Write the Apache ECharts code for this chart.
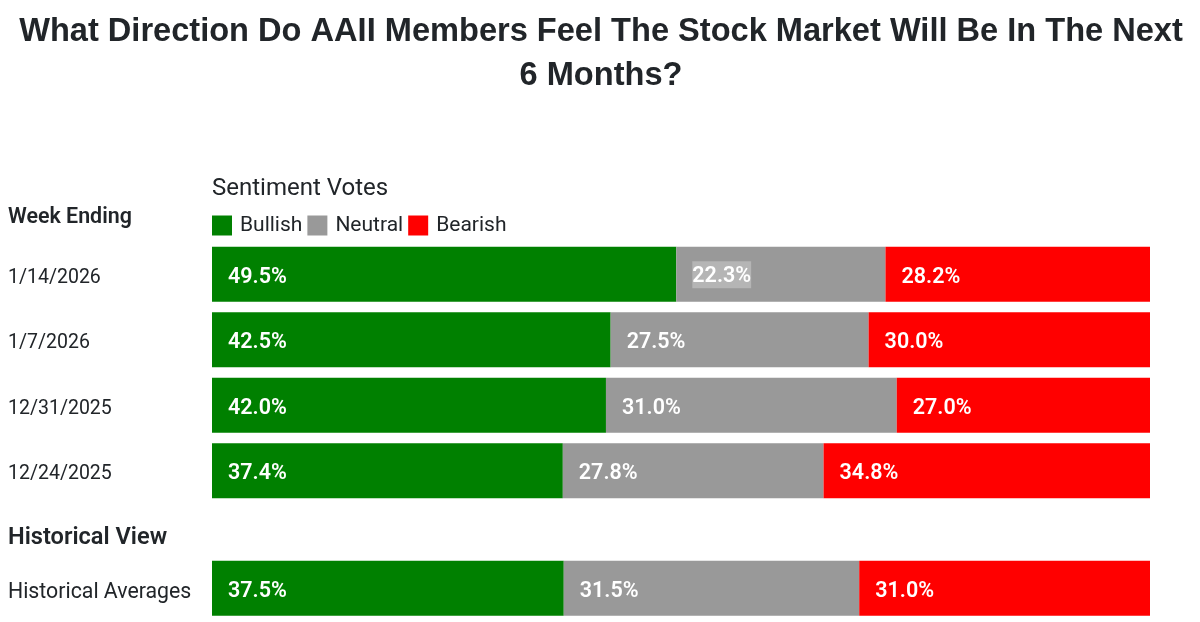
<!DOCTYPE html>
<html lang="en">
<head>
    <meta charset="UTF-8">
    <title>AAII Sentiment Votes</title>
    <script src="https://cdn.jsdelivr.net/npm/echarts@6/dist/echarts.min.js"></script>
    <style>
        html, body { margin: 0; padding: 0; background: #fff; }
        #main { width: 1200px; height: 622px; }
    </style>
</head>
<body>
    <div id="main"></div>
    <script>
        var weeks = ['1/14/2026', '1/7/2026', '12/31/2025', '12/24/2025'];
        var bullish = [49.5, 42.5, 42.0, 37.4];
        var neutral = [22.3, 27.5, 31.0, 27.8];
        var bearish = [28.2, 30.0, 27.0, 34.8];

        var historyRows = ['Historical Averages'];
        var historyBullish = [37.5];
        var historyNeutral = [31.5];
        var historyBearish = [31.0];

        var seriesNames = ['Bullish', 'Neutral', 'Bearish'];
        var seriesColors = ['#008000', '#999999', '#ff0000'];

        var bodyFont = 'Roboto';
        var textColor = '#212529';

        var chart = echarts.init(document.getElementById('main'));

        function barSeries(idx, values, axisIdx, stack) {
            return {
                name: seriesNames[idx],
                type: 'bar',
                stack: stack,
                xAxisIndex: axisIdx,
                yAxisIndex: axisIdx,
                barWidth: 55,
                itemStyle: { color: seriesColors[idx] },
                label: {
                    show: true,
                    position: 'insideLeft',
                    distance: 16,
                    offset: [0, 3],
                    color: '#fff',
                    fontFamily: bodyFont,
                    fontWeight: 600,
                    fontSize: 21.5,
                    formatter: function (p) { return p.value.toFixed(1) + '%'; }
                },
                data: values.map(function (v) { return v; })
            };
        }

        var series = [
            barSeries(0, bullish, 0, 'weeks'),
            barSeries(1, neutral, 0, 'weeks'),
            barSeries(2, bearish, 0, 'weeks'),
            barSeries(0, historyBullish, 1, 'history'),
            barSeries(1, historyNeutral, 1, 'history'),
            barSeries(2, historyBearish, 1, 'history')
        ];

        // first neutral label looks selected in the original
        series[1].data[0] = {
            value: neutral[0],
            label: {
                backgroundColor: '#b5b5b5',
                verticalAlign: 'top',
                offset: [0, -13],
                padding: [4, 0, 1, 0]
            }
        };

        function xAxis(gridIdx) {
            return { gridIndex: gridIdx, type: 'value', min: 0, max: 100, show: false };
        }

        function yAxis(gridIdx, cats, size) {
            return {
                gridIndex: gridIdx,
                type: 'category',
                inverse: true,
                data: cats,
                axisLine: { show: false },
                axisTick: { show: false },
                axisLabel: {
                    align: 'left',
                    verticalAlign: 'top',
                    margin: 204,
                    padding: [-6.5, 0, 0, 0],
                    color: textColor,
                    fontFamily: bodyFont,
                    fontSize: size
                }
            };
        }

        var option = {
            animation: false,
            backgroundColor: '#fff',
            title: [
                {
                    text: 'What Direction Do AAII Members Feel The Stock Market Will Be In The Next\n6 Months?',
                    left: 596,
                    top: 5,
                    textAlign: 'center',
                    textStyle: {
                        fontFamily: 'Liberation Sans',
                        fontWeight: 'bold',
                        fontSize: 32.6,
                        lineHeight: 44,
                        color: textColor
                    }
                },
                {
                    text: 'Sentiment Votes',
                    left: 212,
                    top: 177,
                    padding: 0,
                    textStyle: { fontFamily: bodyFont, fontWeight: 'normal', fontSize: 24, color: textColor }
                },
                {
                    text: 'Week Ending',
                    left: 8,
                    top: 207,
                    padding: 0,
                    textStyle: { fontFamily: bodyFont, fontWeight: 600, fontSize: 21.4, color: textColor }
                },
                {
                    text: 'Historical View',
                    left: 8,
                    top: 526,
                    padding: 0,
                    textStyle: { fontFamily: bodyFont, fontWeight: 600, fontSize: 23.6, color: textColor }
                }
            ],
            legend: {
                data: seriesNames,
                left: 212,
                top: 215,
                padding: 0,
                icon: 'rect',
                itemWidth: 20,
                itemHeight: 20,
                itemGap: 5,
                textStyle: { fontFamily: bodyFont, fontSize: 21, color: textColor, padding: [2, 0, 0, 3] }
            },
            grid: [
                { left: 212, width: 938, top: 241.5, height: 262 },
                { left: 212, width: 938, top: 555.5, height: 65.5 }
            ],
            xAxis: [xAxis(0), xAxis(1)],
            yAxis: [yAxis(0, weeks, 19.5), yAxis(1, historyRows, 21.3)],
            series: series
        };

        chart.setOption(option);
    </script>
</body>
</html>
